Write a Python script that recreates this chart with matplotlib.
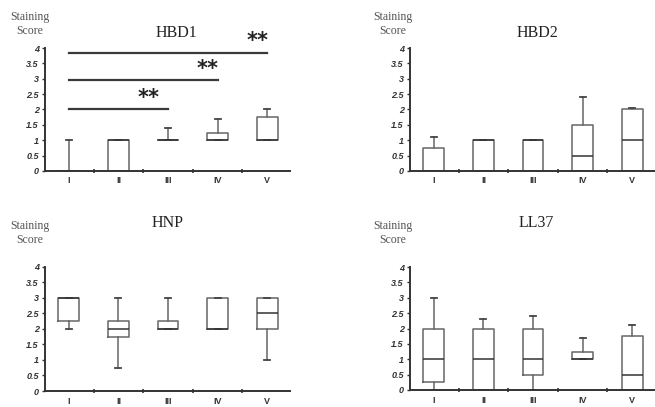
import matplotlib.pyplot as plt

groups = ['I', 'II', 'III', 'IV', 'V']

# box stats: whisker low, q1, median, q3, whisker high
hbd1_lo = [0, 0, 1, 1, 1]
hbd1_q1 = [0, 0, 1, 1, 1]
hbd1_med = [0, 1, 1, 1, 1]
hbd1_q3 = [0, 1, 1, 1.25, 1.75]
hbd1_hi = [1, 1, 1.4, 1.7, 2.0]

hbd2_lo = [0, 0, 0, 0, 0]
hbd2_q1 = [0, 0, 0, 0, 0]
hbd2_med = [0, 1, 1, 0.5, 1]
hbd2_q3 = [0.75, 1, 1, 1.5, 2]
hbd2_hi = [1.1, 1, 1, 2.4, 2.05]

hnp_lo = [2, 0.75, 2, 2, 1]
hnp_q1 = [2.25, 1.75, 2, 2, 2]
hnp_med = [3, 2, 2, 2, 2.5]
hnp_q3 = [3, 2.25, 2.25, 3, 3]
hnp_hi = [3, 3, 3, 3, 3]

ll37_lo = [0, 0, 0, 1, 0]
ll37_q1 = [0.25, 0, 0.5, 1, 0]
ll37_med = [1, 1, 1, 1, 0.5]
ll37_q3 = [2, 2, 2, 1.25, 1.75]
ll37_hi = [3, 2.3, 2.4, 1.7, 2.1]

# HBD1 significance bars: from group I to group sig_to, at height sig_y
sig_to = [3, 4, 5]
sig_y = [2.0, 2.95, 3.85]
star_x = [2.6, 3.8, 4.8]

panels = [
    ('HBD1', [hbd1_lo, hbd1_q1, hbd1_med, hbd1_q3, hbd1_hi]),
    ('HBD2', [hbd2_lo, hbd2_q1, hbd2_med, hbd2_q3, hbd2_hi]),
    ('HNP', [hnp_lo, hnp_q1, hnp_med, hnp_q3, hnp_hi]),
    ('LL37', [ll37_lo, ll37_q1, ll37_med, ll37_q3, ll37_hi]),
]

axes_pos = [
    [0.0687, 0.580, 0.374, 0.302],
    [0.626, 0.580, 0.374, 0.302],
    [0.0687, 0.0393, 0.374, 0.305],
    [0.626, 0.0418, 0.374, 0.302],
]
title_xy = [(0.270, 0.919), (0.821, 0.919), (0.256, 0.452), (0.818, 0.452)]
ylab_xy = [(0.046, 0.941), (0.600, 0.941), (0.046, 0.427), (0.600, 0.427)]

fig = plt.figure(figsize=(6.55, 4.07), dpi=100)

for i, (name, vals) in enumerate(panels):
    ax = fig.add_axes(axes_pos[i])
    lo, q1, med, q3, hi = vals
    stats = []
    for k in range(len(groups)):
        stats.append({'whislo': lo[k], 'q1': q1[k], 'med': med[k],
                      'q3': q3[k], 'whishi': hi[k], 'fliers': []})
    pos = list(range(1, len(groups) + 1))
    ax.bxp(stats, positions=pos, widths=0.42, showfliers=False,
           capwidths=0.12,
           boxprops=dict(color='#666666', lw=1.1),
           whiskerprops=dict(color='#666666', lw=1.1),
           capprops=dict(color='#444444', lw=1.3),
           medianprops=dict(color='#333333', lw=1.1))
    ax.set_xlim(0.52, 5.46)
    ax.set_ylim(0, 4)
    ax.set_yticks([0, 0.5, 1, 1.5, 2, 2.5, 3, 3.5, 4])
    ax.set_yticklabels(['0', '0.5', '1', '1.5', '2', '2.5', '3', '3.5', '4'],
                       fontsize=6.5, fontstyle='italic', fontweight='bold',
                       family='Liberation Sans', color='#333333')
    ax.set_xticks(pos)
    ax.set_xticklabels(groups, fontsize=6.5, fontweight='bold',
                       family='Liberation Sans', color='#333333')
    ax.tick_params(axis='x', which='major', length=0, pad=4)
    ax.set_xticks([1.5, 2.5, 3.5, 4.5], minor=True)
    ax.tick_params(axis='x', which='minor', length=3, direction='inout',
                   width=1.2, color='#333333')
    ax.tick_params(axis='y', length=2.5, width=1, color='#333333', pad=2)
    for s in ['top', 'right']:
        ax.spines[s].set_visible(False)
    for s in ['left', 'bottom']:
        ax.spines[s].set_color('#333333')
        ax.spines[s].set_linewidth(1.4)
    ax.patch.set_alpha(0)

    if name == 'HBD1':
        for x2, y, sx in zip(sig_to, sig_y, star_x):
            ax.plot([1, x2], [y, y], color='#3a3a3a', lw=1.6, clip_on=False)
            ax.text(sx, y + 0.05, '**', fontsize=15, fontweight='bold',
                    color='#222222', ha='center', va='bottom',
                    family='DejaVu Sans')

    fig.text(title_xy[i][0], title_xy[i][1], name, fontsize=11.5,
             family='Liberation Serif', color='#222222', ha='center', va='center')
    fig.text(ylab_xy[i][0], ylab_xy[i][1], 'Staining\nScore', fontsize=8.5,
             family='Liberation Serif', color='#555555', ha='center', va='center',
             linespacing=1.25)

fig.savefig('out.png', dpi=100)
